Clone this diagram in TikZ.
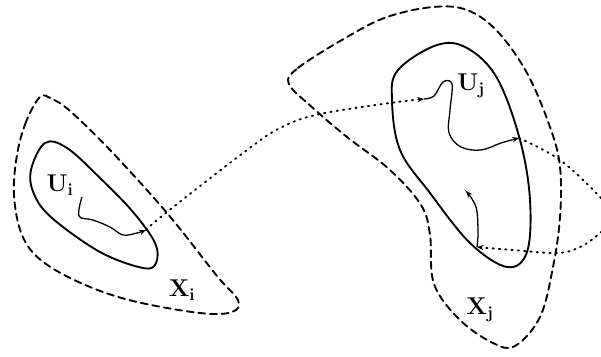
\documentclass[tikz,border=0pt]{standalone}
\usepackage{amsmath,amssymb}
\usepackage{tikz}
\usepackage{xcolor}
\usetikzlibrary{positioning,arrows.meta,calc}

\begin{document}
\begin{tikzpicture}[
          x=0.3mm, y=-0.3mm,
          lbl/.style={font=\fontsize{21}{24}\selectfont},
          bnd/.style={line width=1.6pt, dash pattern=on 2.1mm off 1.4mm, line cap=round},
          nbh/.style={line width=1.6pt},
          path/.style={line width=1.1pt},
          jump/.style={line width=1.6pt, dash pattern=on 0.4mm off 1.5mm, line cap=round},
          arr/.style={-{Stealth[length=2mm, width=1.6mm]}}
      ]
        \clip (0,0) rectangle (601,356);
        % sets X_i and X_j
        \draw[bnd] plot[smooth cycle, tension=0.6] coordinates {(40,97) (26,122) (17,155) (14,195) (22,235) (42,261) (83,284) (133,301) (200,313) (232,312) (238,300) (217,276) (167,213) (110,150) (70,111) (52,99)};
        \draw[bnd] plot[smooth cycle, tension=0.6] coordinates {(289,84) (298,68) (347,37) (387,17) (433,7) (467,10) (497,31) (527,73) (550,127) (560,167) (560,217) (553,267) (540,317) (515,346) (493,343) (460,320) (434,284) (430,235) (421,205) (390,170) (347,137) (313,108)};
        % neighbourhoods U_i and U_j
        \draw[nbh] plot[smooth cycle, tension=0.6] coordinates {(45,143) (31,170) (34,194) (52,218) (100,252) (143,268) (156,263) (155,243) (133,212) (100,178) (67,148)};
        \draw[nbh] plot[smooth cycle, tension=0.6] coordinates {(437,45) (467,48) (497,78) (520,140) (530,200) (527,252) (507,267) (470,243) (430,193) (400,150) (392,100) (398,70)};
        % end points
        \coordinate (pi) at (146,230);
        \coordinate (qa) at (424,99);
        \coordinate (qb) at (519,138);
        \coordinate (qc) at (477,247);
        \coordinate (qd) at (466,191);
        % paths inside and jumps between
        \draw[path, arr] plot[smooth, tension=0.6] coordinates {(82,197) (79,216) (93,220) (110,227) (123,235) (137,233) (pi)};
        \draw[jump, arr] plot[smooth, tension=0.6] coordinates {(pi) (167,212) (247,150) (282,127) (320,114) (390,103) (qa)};
        \draw[path, arr] plot[smooth, tension=0.6] coordinates {(qa) (434,96) (443,82) (452,84) (450,110) (449,133) (461,147) (481,150) (501,143) (qb)};
        \draw[jump, arr] plot[smooth, tension=0.6] coordinates {(qb) (560,160) (600,197) (614,216) (600,233) (580,247) (557,253) (513,250) (qc)};
        \draw[path, arr] plot[smooth, tension=0.6] coordinates {(qc) (478,232) (476,207) (qd)};
        % labels
        \node[lbl] (ui) at (60,185) {$\mathbf{U_i}$};
        \node[lbl] (xi) at (182,290) {$\mathbf{X_i}$};
        \node[lbl] (uj) at (471,86) {$\mathbf{U_j}$};
        \node[lbl] (xj) at (480,310) {$\mathbf{X_j}$};
      \end{tikzpicture}
\end{document}
